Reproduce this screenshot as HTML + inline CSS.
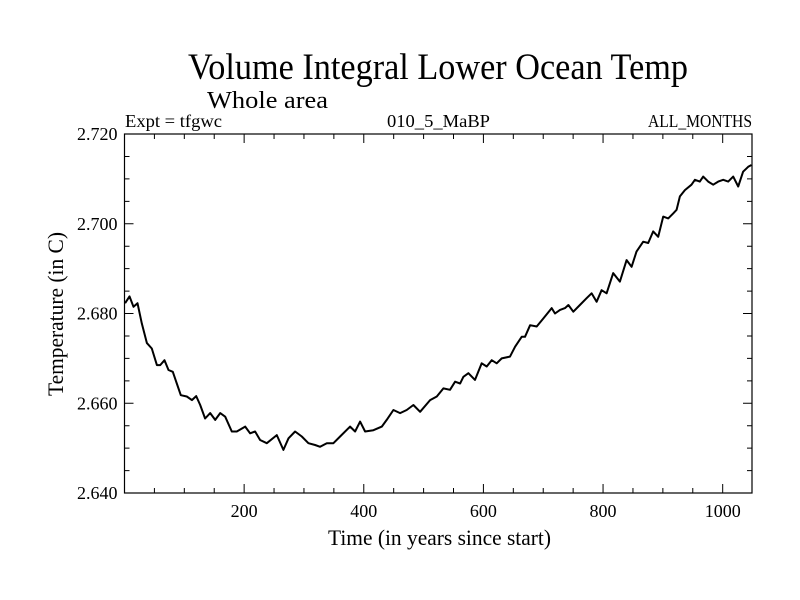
<!DOCTYPE html>
<html><head><meta charset="utf-8"><style>
html,body{margin:0;padding:0;background:#fff;}
svg{display:block;font-family:"Liberation Serif",serif;}
</style></head><body>
<svg id="chart" width="800" height="600" viewBox="0 0 800 600" xmlns="http://www.w3.org/2000/svg">
<rect width="800" height="600" fill="#fff"/>
<text x="188" y="79" font-size="37" textLength="500" lengthAdjust="spacingAndGlyphs">Volume Integral Lower Ocean Temp</text>
<text x="207" y="108" font-size="24" textLength="121" lengthAdjust="spacingAndGlyphs">Whole area</text>
<text x="125" y="127" font-size="18" textLength="97" lengthAdjust="spacingAndGlyphs">Expt = tfgwc</text>
<text x="387" y="127" font-size="18" textLength="103" lengthAdjust="spacingAndGlyphs">010_5_MaBP</text>
<text x="648" y="127" font-size="18" textLength="104" lengthAdjust="spacingAndGlyphs">ALL_MONTHS</text>
<text x="328" y="545" font-size="22" textLength="223" lengthAdjust="spacingAndGlyphs">Time (in years since start)</text>
<text transform="translate(63,396) rotate(-90)" font-size="22" textLength="164" lengthAdjust="spacingAndGlyphs">Temperature (in C)</text>
<g id="axes"></g>
<path id="series" fill="none" stroke="#000" stroke-width="2" stroke-linejoin="round"/>
<rect x="124.5" y="134" width="627.5" height="359" fill="none" stroke="#000" stroke-width="1.2"/>
</svg>
<script>
const years=[1,8.4,15.1,21.8,29,37.4,45.7,54.1,59.7,66.9,73.6,80.8,87.5,94.2,104.2,112.6,119.8,126.5,134.8,143.2,151.6,159.9,168.3,179.4,187.8,201.7,210,218.4,226.7,237.9,254.6,265.7,274.1,285.2,296.4,307.5,318.7,327,338.2,349.3,360.4,377.1,385.5,393.9,402.2,416.1,430.1,438.4,449.6,460.7,471.8,483,494.1,510.8,522,533.1,544.2,552.6,561,566.5,574.9,586,597.2,605.5,613.9,622.2,630.6,644.5,652.9,664,669.6,678,689.1,700.2,714.1,719.7,728.1,736.4,742,750.2,761.3,772.5,780.8,789.2,797.5,805.9,817,828.2,839.3,847.7,856,867.2,875.5,883.9,892.2,900.6,908.9,917.3,922.9,928.4,936.8,947.9,953.5,961.8,967.4,975.8,984.1,992.5,1000.8,1009.2,1017.5,1025.9,1034.2,1042.6,1048.2];
const temps=[2.6823,2.6838,2.6815,2.6823,2.6778,2.6734,2.6722,2.6685,2.6685,2.6696,2.6674,2.6670,2.6644,2.6618,2.6615,2.6607,2.6616,2.6596,2.6566,2.6578,2.6563,2.6578,2.6570,2.6537,2.6537,2.6548,2.6533,2.6537,2.6518,2.6511,2.6529,2.6496,2.6522,2.6537,2.6526,2.6511,2.6507,2.6503,2.6511,2.6511,2.6526,2.6548,2.6537,2.6559,2.6537,2.6540,2.6548,2.6563,2.6585,2.6578,2.6585,2.6596,2.6581,2.6607,2.6615,2.6633,2.6630,2.6648,2.6644,2.6659,2.6667,2.6652,2.6689,2.6682,2.6696,2.6689,2.6700,2.6704,2.6726,2.6748,2.6748,2.6774,2.6771,2.6789,2.6812,2.6800,2.6808,2.6812,2.6819,2.6804,2.6819,2.6834,2.6845,2.6826,2.6852,2.6845,2.6890,2.6871,2.6919,2.6904,2.6938,2.6960,2.6957,2.6983,2.6971,2.7016,2.7012,2.7023,2.7031,2.7061,2.7075,2.7087,2.7098,2.7094,2.7105,2.7094,2.7087,2.7094,2.7098,2.7094,2.7105,2.7083,2.7116,2.7127,2.7131];
const xTickLabels=["200","400","600","800","1000"];
const yTickLabels=["2.640","2.660","2.680","2.700","2.720"];
const X0=124.5,X1=752,Y0=493,Y1=134,XMIN=0,XMAX=1049,YMIN=2.640,YMAX=2.720;
function sx(v){return X0+(v-XMIN)/(XMAX-XMIN)*(X1-X0);}
function sy(v){return Y0-(v-YMIN)/(YMAX-YMIN)*(Y0-Y1);}
const NS="http://www.w3.org/2000/svg";
const axes=document.getElementById('axes');
let d="";
for(let i=0;i<years.length;i++){d+=(i?"L":"M")+sx(years[i]).toFixed(1)+" "+sy(temps[i]).toFixed(1);}
document.getElementById('series').setAttribute('d',d);
let tk="";
for(let v=50;v<XMAX;v+=50){const x=sx(v);const L=(v%200===0)?9:5;tk+=`M${x} ${Y0}v${-L}M${x} ${Y1}v${L}`;}
for(let k=1;k<16;k++){const v=YMIN+k*0.005;const y=sy(v);const L=(k%4===0)?9:5;tk+=`M${X0} ${y}h${L}M${X1} ${y}h${-L}`;}
const tp=document.createElementNS(NS,'path');
tp.setAttribute('d',tk);tp.setAttribute('stroke','#000');tp.setAttribute('stroke-width','1');


axes.appendChild(tp);
xTickLabels.forEach(s=>{
 const t=document.createElementNS(NS,'text');
 t.setAttribute('x',sx(parseFloat(s)));t.setAttribute('y',Y0+24);
 t.setAttribute('text-anchor','middle');t.setAttribute('font-size','18');
 t.textContent=s;
 
 
 axes.appendChild(t);
});
yTickLabels.forEach(s=>{
 const t=document.createElementNS(NS,'text');
 t.setAttribute('x',X0-7);t.setAttribute('y',sy(parseFloat(s))+6);
 t.setAttribute('text-anchor','end');t.setAttribute('font-size','18');
 t.textContent=s;
 
 
 axes.appendChild(t);
});
</script>
</body></html>
